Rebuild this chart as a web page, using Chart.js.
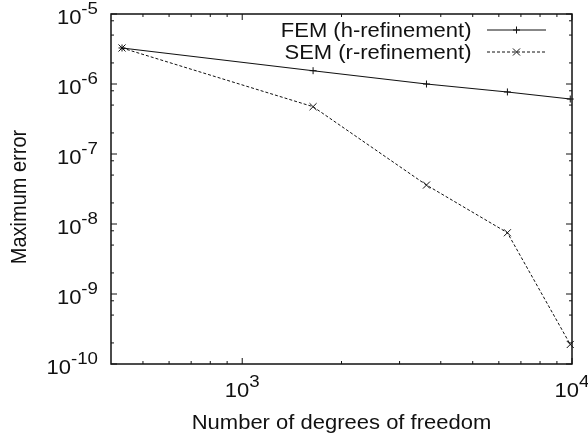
<!DOCTYPE html>
<html>
<head>
<meta charset="utf-8">
<script src="https://cdn.jsdelivr.net/npm/chart.js@4/dist/chart.umd.min.js"></script>
<style>
  html, body { margin: 0; padding: 0; background: #fff; }
  canvas { display: block; }
</style>
</head>
<body>
<canvas id="c" width="588" height="441"></canvas>
<script>
// Convergence data: degrees of freedom vs. maximum error
const seriesNames = ['FEM (h-refinement)', 'SEM (r-refinement)'];
const dofFEM = [432, 1640, 3620, 6370, 9880];
const errFEM = [3.27e-6, 1.55e-6, 1.0e-6, 7.7e-7, 6.1e-7];
const dofSEM = [432, 1640, 3620, 6370, 9880];
const errSEM = [3.27e-6, 4.74e-7, 3.6e-8, 7.5e-9, 1.9e-10];

// Axis ranges and tick marks
const xRange = [400, 10000];
const yRange = [1e-10, 1e-5];
const xMajorTicks = [1000, 10000];
const xMajorExponents = ['3', '4'];
const xMinorTicks = [500, 600, 700, 800, 900, 2000, 3000, 4000, 5000, 6000, 7000, 8000, 9000];
const yMajorTicks = [1e-10, 1e-9, 1e-8, 1e-7, 1e-6, 1e-5];
const yMajorExponents = ['-10', '-9', '-8', '-7', '-6', '-5'];
const yMinorTicks = [2e-10, 5e-10, 8e-10, 2e-9, 5e-9, 8e-9, 2e-8, 5e-8, 8e-8,
                     2e-7, 5e-7, 8e-7, 2e-6, 5e-6, 8e-6];
const xTitle = 'Number of degrees of freedom';
const yTitle = 'Maximum error';

const FONT = '"Liberation Sans", Arial, Helvetica, sans-serif';
const INK = '#111';
const SX = 1.1; // horizontal text stretch
const TXT = 20;  // main text size
const SUP = 17;  // exponent size

function stretchedText(ctx, text, x, y, size, align) {
  ctx.save();
  ctx.font = size + 'px ' + FONT;
  ctx.textAlign = align;
  ctx.textBaseline = 'alphabetic';
  ctx.translate(x, y);
  ctx.scale(SX, 1);
  ctx.fillText(text, 0, 0);
  ctx.restore();
}

function textW(ctx, text, size) {
  ctx.save();
  ctx.font = size + 'px ' + FONT;
  const w = ctx.measureText(text).width * SX;
  ctx.restore();
  return w;
}

// "10" with a superscript exponent; anchor: 'right' or 'center'
function powerLabel(ctx, exp, x, baseline, anchor) {
  const wMain = textW(ctx, '10', TXT);
  const wSup = textW(ctx, exp, SUP);
  const total = wMain + wSup;
  const left = anchor === 'right' ? x - total : x - total / 2;
  stretchedText(ctx, '10', left, baseline, TXT, 'left');
  stretchedText(ctx, exp, left + wMain, baseline - 9.5, SUP, 'left');
}

const axesPlugin = {
  id: 'gnuplotAxes',
  afterDraw(chart) {
    const ctx = chart.ctx;
    const xs = chart.scales.x, ys = chart.scales.y;
    const a = chart.chartArea;
    ctx.save();
    ctx.strokeStyle = INK;
    ctx.fillStyle = INK;

    // frame
    ctx.lineWidth = 1.5;
    ctx.strokeRect(a.left, a.top, a.right - a.left, a.bottom - a.top);

    // ticks (inward on all four sides)
    ctx.lineWidth = 1;
    ctx.beginPath();
    const xt = (v, len) => {
      const p = xs.getPixelForValue(v);
      ctx.moveTo(p, a.bottom); ctx.lineTo(p, a.bottom - len);
      ctx.moveTo(p, a.top); ctx.lineTo(p, a.top + len);
    };
    const yt = (v, len) => {
      const p = ys.getPixelForValue(v);
      ctx.moveTo(a.left, p); ctx.lineTo(a.left + len, p);
      ctx.moveTo(a.right, p); ctx.lineTo(a.right - len, p);
    };
    xMajorTicks.forEach(v => xt(v, 6));
    xMinorTicks.forEach(v => xt(v, 3));
    yMajorTicks.forEach(v => yt(v, 6));
    yMinorTicks.forEach(v => yt(v, 3));
    ctx.stroke();

    // tick labels
    yMajorTicks.forEach((v, i) => {
      powerLabel(ctx, yMajorExponents[i], a.left - 13, ys.getPixelForValue(v) + 9.5, 'right');
    });
    xMajorTicks.forEach((v, i) => {
      powerLabel(ctx, xMajorExponents[i], xs.getPixelForValue(v), 396.5, 'center');
    });

    // axis titles
    stretchedText(ctx, xTitle, (a.left + a.right) / 2, 428.5, TXT, 'center');
    ctx.save();
    ctx.font = TXT + 'px ' + FONT;
    ctx.textAlign = 'center';
    ctx.textBaseline = 'middle';
    ctx.translate(20, 197);
    ctx.rotate(-Math.PI / 2);
    ctx.scale(1, SX);
    ctx.fillText(yTitle, 0, 0);
    ctx.restore();

    // key
    const rows = [
      { y: 30, dash: [], style: 'cross', r: 3.5 },
      { y: 52, dash: [3, 2], style: 'crossRot', r: 5 }
    ];
    rows.forEach((row, i) => {
      stretchedText(ctx, seriesNames[i], 471.5, row.y + 7.3, TXT, 'right');
      ctx.save();
      ctx.lineWidth = 1;
      ctx.setLineDash(row.dash);
      ctx.beginPath();
      ctx.moveTo(487, row.y); ctx.lineTo(546, row.y);
      ctx.stroke();
      ctx.restore();
      Chart.helpers.drawPoint(ctx, { pointStyle: row.style, radius: row.r, borderWidth: 1 }, 516.5, row.y);
    });
    ctx.restore();
  }
};

new Chart(document.getElementById('c'), {
  type: 'scatter',
  data: {
    datasets: [
      {
        label: seriesNames[0],
        data: dofFEM.map((x, i) => ({ x, y: errFEM[i] })),
        showLine: true,
        borderColor: INK,
        borderWidth: 1.1,
        pointStyle: 'cross',
        pointRadius: 3.5,
        pointBorderWidth: 1,
        pointBorderColor: INK,
        backgroundColor: INK,
        clip: false
      },
      {
        label: seriesNames[1],
        data: dofSEM.map((x, i) => ({ x, y: errSEM[i] })),
        showLine: true,
        borderColor: INK,
        borderWidth: 1,
        borderDash: [3, 2],
        pointStyle: 'crossRot',
        pointRadius: 5,
        pointBorderWidth: 1,
        pointBorderColor: INK,
        backgroundColor: INK,
        clip: false
      }
    ]
  },
  options: {
    responsive: false,
    animation: false,
    devicePixelRatio: 1,
    layout: { padding: { left: 111, top: 14, right: 16, bottom: 77 } },
    plugins: { legend: { display: false }, tooltip: { enabled: false } },
    scales: {
      x: { type: 'logarithmic', display: false, min: xRange[0], max: xRange[1] },
      y: { type: 'logarithmic', display: false, min: yRange[0], max: yRange[1] }
    }
  },
  plugins: [axesPlugin]
});
</script>
</body>
</html>
